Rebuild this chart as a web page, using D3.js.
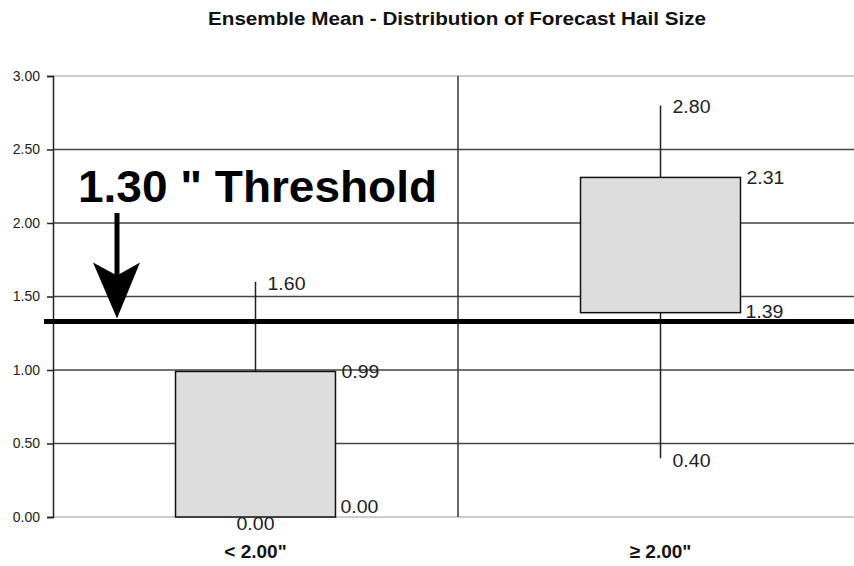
<!DOCTYPE html>
<html>
<head>
<meta charset="utf-8">
<script src="https://cdn.jsdelivr.net/npm/d3@7"></script>
<style>
  body { margin: 0; background: #fff; }
  svg { display: block; font-family: Arial, "Liberation Sans", sans-serif; }
</style>
</head>
<body>
<div id="chart"></div>
<script>
(function boxchart() {

  // data
  var categories = ['< 2.00"', '\u2265 2.00"'];
  var mins = [0.00, 0.40];
  var q1s = [0.00, 1.39];
  var q3s = [0.99, 2.31];
  var maxs = [1.60, 2.80];
  var yTicks = [0, 0.5, 1, 1.5, 2, 2.5, 3];
  var threshold = 1.33;
  var thresholdLabel = "1.30 \" Threshold";
  var title = "Ensemble Mean  - Distribution of Forecast Hail Size";

  var width = 854, height = 566;
  var margin = { top: 76, left: 53, bottom: 49 };
  var plotRight = 863;

  var svg = d3.select("#chart").append("svg")
    .attr("width", width)
    .attr("height", height);

  var x = d3.scaleBand().domain(categories).range([margin.left, plotRight]);
  var y = d3.scaleLinear().domain([0, 3]).range([height - margin.bottom, margin.top]);
  var boxW = x.bandwidth() * 0.395;

  // title
  svg.append("text")
    .attr("x", 457).attr("y", 25)
    .attr("text-anchor", "middle")
    .attr("font-family", "'Liberation Sans Narrow', 'Arial Narrow', Arial, sans-serif")
    .attr("font-size", 18).attr("font-weight", "bold").attr("fill", "#111")
    .attr("textLength", 498).attr("lengthAdjust", "spacingAndGlyphs")
    .text(title);

  // horizontal gridlines
  svg.append("g").selectAll("line")
    .data(yTicks)
    .enter().append("line")
    .attr("x1", margin.left).attr("x2", plotRight)
    .attr("y1", function(d) { return y(d); })
    .attr("y2", function(d) { return y(d); })
    .attr("stroke", function(d) { return (d === 0 || d === 3) ? "#bbb" : "#444"; })
    .attr("stroke-width", 1.5);

  // category divider
  svg.append("line")
    .attr("x1", x(categories[1])).attr("x2", x(categories[1]))
    .attr("y1", y(3)).attr("y2", y(0))
    .attr("stroke", "#333").attr("stroke-width", 1.5);

  // y axis
  var yAxis = d3.axisLeft(y).tickValues(yTicks).tickSize(6).tickFormat(d3.format(".2f"));
  var gy = svg.append("g")
    .attr("transform", "translate(" + margin.left + ",0)")
    .call(yAxis);
  gy.attr("font-size", 14).attr("font-family", "Arial, 'Liberation Sans', sans-serif");
  gy.select(".domain").attr("stroke", "#222").attr("stroke-width", 1.5);
  gy.selectAll(".tick line").attr("stroke", "#222").attr("stroke-width", 1.5);
  gy.selectAll(".tick text")
    .attr("fill", "#222").attr("x", -13);

  // x category labels
  svg.append("g").selectAll("text")
    .data(categories)
    .enter().append("text")
    .attr("x", function(d) { return x(d) + x.bandwidth() / 2; })
    .attr("y", 558)
    .attr("text-anchor", "middle")
    .attr("font-size", 19).attr("font-weight", "bold").attr("fill", "#111")
    .text(function(d) { return d; });

  var idx = d3.range(categories.length);
  function cx(i) { return x(categories[i]) + x.bandwidth() / 2; }

  // whiskers
  var g = svg.append("g");
  g.selectAll(".whisker")
    .data(idx)
    .enter().append("line")
    .attr("class", "whisker")
    .attr("x1", cx).attr("x2", cx)
    .attr("y1", function(i) { return y(maxs[i]); })
    .attr("y2", function(i) { return y(mins[i]); })
    .attr("stroke", "#222").attr("stroke-width", 1.5);

  // boxes
  g.selectAll(".box")
    .data(idx)
    .enter().append("rect")
    .attr("class", "box")
    .attr("x", function(i) { return cx(i) - boxW / 2; })
    .attr("y", function(i) { return y(q3s[i]); })
    .attr("width", boxW)
    .attr("height", function(i) { return y(q1s[i]) - y(q3s[i]); })
    .attr("fill", "#dddddd").attr("stroke", "#111").attr("stroke-width", 1.5);

  // value labels
  var fmt = d3.format(".2f");
  var labels = [];
  idx.forEach(function(i) {
    var noLow = mins[i] === q1s[i];
    labels.push({ x: cx(i) + 12, y: y(maxs[i]) + 8, v: maxs[i], a: "start" });
    labels.push({ x: cx(i) + boxW / 2 + 6, y: y(q3s[i]) + 7, v: q3s[i], a: "start" });
    labels.push({ x: cx(i) + boxW / 2 + 5, y: y(q1s[i]) + (noLow ? -4 : 5), v: q1s[i], a: "start" });
    if (noLow) {
      labels.push({ x: cx(i), y: y(mins[i]) + 13, v: mins[i], a: "middle" });
    } else {
      labels.push({ x: cx(i) + 12, y: y(mins[i]) + 9, v: mins[i], a: "start" });
    }
  });
  svg.append("g").selectAll("text")
    .data(labels)
    .enter().append("text")
    .attr("x", function(d) { return d.x; })
    .attr("y", function(d) { return d.y; })
    .attr("text-anchor", function(d) { return d.a; })
    .attr("font-size", 18).attr("fill", "#222")
    .attr("textLength", 38).attr("lengthAdjust", "spacingAndGlyphs")
    .text(function(d) { return fmt(d.v); });

  // threshold line
  svg.append("line")
    .attr("x1", 44).attr("x2", width)
    .attr("y1", y(threshold)).attr("y2", y(threshold))
    .attr("stroke", "#000").attr("stroke-width", 5);

  // annotation text and arrow
  svg.append("text")
    .attr("x", 78).attr("y", 202)
    .attr("font-size", 44).attr("font-weight", "bold").attr("fill", "#000")
    .attr("textLength", 359).attr("lengthAdjust", "spacingAndGlyphs")
    .text(thresholdLabel);

  var ax = 117, tip = y(threshold) - 3;
  svg.append("line")
    .attr("x1", ax).attr("x2", ax)
    .attr("y1", 213).attr("y2", tip - 40)
    .attr("stroke", "#000").attr("stroke-width", 5);
  svg.append("path")
    .attr("d", "M" + ax + "," + tip +
      " L" + (ax - 24) + "," + (tip - 56) +
      " L" + ax + "," + (tip - 43) +
      " L" + (ax + 23) + "," + (tip - 56) + " Z")
    .attr("fill", "#000");

})();
</script>
</body>
</html>
